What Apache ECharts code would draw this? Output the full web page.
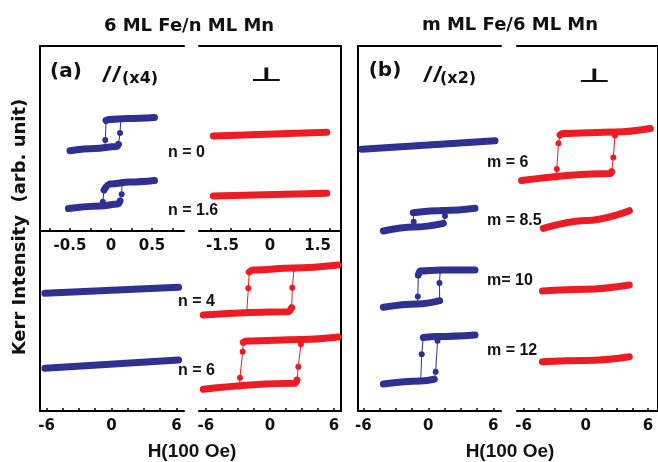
<!DOCTYPE html>
<html>
<head>
<meta charset="utf-8">
<script src="https://cdn.jsdelivr.net/npm/echarts@6.0.0/dist/echarts.min.js"></script>
<style>
html,body{margin:0;padding:0;background:#fff;}
#chart{width:658px;height:462px;}
</style>
</head>
<body>
<div id="chart"></div>
<script>
// ---------- tick labels (field H in units of 100 Oe) ----------
const labelsParA  = [-0.5, 0, 0.5];
const ticksParA   = [-0.75, -0.5, -0.25, 0, 0.25, 0.5, 0.75];
const labelsPerpA = [-1.5, 0, 1.5];
const ticksPerpA  = [-1.875, -1.25, -0.625, 0, 0.625, 1.25, 1.875];
const labelsField = [-6, 0, 6];
const ticksField  = [-6, -4.5, -3, -1.5, 0, 1.5, 3, 4.5, 6];

// ---------- curve labels ----------
const nLabels = ['n = 0', 'n = 1.6', 'n = 4', 'n = 6'];
const mLabels = ['m = 6', 'm = 8.5', 'm= 10', 'm = 12'];

// ---------- (a) 6 ML Fe / n ML Mn : parallel (x4), [H, Kerr] ----------
const aPar0Upper = [[-0.06,110.5],[-0.03,111.5],[0.2,112.5],[0.53,113.5]];
const aPar0Lower = [[-0.5,80.3],[-0.2,82.5],[0.07,84.5],[0.09,86.5]];
const aPar0Down  = [[-0.06,110.5],[-0.07,91],[-0.075,83.5]];
const aPar0Up    = [[0.09,86.5],[0.11,98],[0.12,112]];

const aPar16Upper = [[-0.085,41],[-0.01,47],[0.23,49],[0.53,50.5]];
const aPar16Lower = [[-0.52,22.5],[-0.13,25],[0.085,27],[0.11,30]];
const aPar16Down  = [[-0.085,41],[-0.1,29.3],[-0.1,25]];
const aPar16Up    = [[0.11,30],[0.13,36.7],[0.135,48.5]];

const aPar4 = [[-6.15,117.7],[6.2,123.7]];
const aPar6 = [[-6.15,42.7],[6.2,51]];

// ---------- (a) perpendicular ----------
const aPerp0  = [[-1.79,95],[1.79,98.7]];
const aPerp16 = [[-1.79,35],[1.79,37.7]];

const aPerp4Upper = [[-1.94,139],[-1.6,141],[2.25,143],[6.4,146]];
const aPerp4Lower = [[-6.25,96],[1.72,99.3],[2.03,103.3]];
const aPerp4Down  = [[-1.94,139],[-2.03,122.7],[-2.18,98]];
const aPerp4Up    = [[2.03,103.3],[2.09,123.3],[2.25,142.5]];

const aPerp6Upper = [[-2.5,68.7],[-2.2,70],[3.0,71.5],[6.4,74]];
const aPerp6Lower = [[-6.25,21.7],[2.34,27.7],[2.53,31]];
const aPerp6Down  = [[-2.5,68.7],[-2.56,59.3],[-2.81,33.3],[-2.86,24.5]];
const aPerp6Up    = [[2.53,31],[2.65,44.3],[2.9,66.7],[3.0,71]];

// ---------- (b) m ML Fe / 6 ML Mn : parallel (x2) ----------
const bPar6 = [[-6.15,261.7],[6.16,270.3]];

const bPar85Upper = [[-1.39,198.3],[1.5,200.5],[4.31,202.7]];
const bPar85Lower = [[-4.15,180],[-1.3,184],[1.39,187.7]];
const bPar85Down  = [[-1.39,198.3],[-1.35,189.3],[-1.3,184]];
const bPar85Up    = [[1.39,187.7],[1.54,195],[1.6,200.5]];

const bPar10Upper = [[-0.92,136],[-0.77,140],[1.17,141],[4.31,141]];
const bPar10Lower = [[-4.15,103.7],[-1.0,107],[1.05,110.3]];
const bPar10Down  = [[-0.92,136],[-0.97,114.5],[-1.0,107]];
const bPar10Up    = [[1.05,110.3],[1.03,128],[1.1,140.5]];

const bPar12Upper = [[-0.46,73.5],[0.85,74.5],[4.31,76]];
const bPar12Lower = [[-4.15,27],[-0.7,30],[0.55,31.7]];
const bPar12Down  = [[-0.46,73.5],[-0.61,56.7],[-0.7,30]];
const bPar12Up    = [[0.55,31.7],[0.68,39.3],[0.85,70.3],[0.87,74.5]];

// ---------- (b) perpendicular ----------
const bPerp6Upper = [[-2.48,276],[-2.2,277.5],[2.81,279],[6.22,282.5]];
const bPerp6Lower = [[-6.2,230.5],[2.33,237.5],[2.49,239.3]];
const bPerp6Down  = [[-2.48,276],[-2.64,267.7],[-2.8,242],[-2.87,233.5]];
const bPerp6Up    = [[2.49,239.3],[2.65,253.5],[2.81,275.5],[2.83,279]];

const bPerp85 = [[-4.1,182.7],[0.08,190.5],[4.2,200.3]];
const bPerp10 = [[-4.19,120],[0,121.8],[4.19,126]];
const bPerp12 = [[-4.19,49.3],[0,50.5],[4.19,54.3]];

// ================= layout & styles =================
const BLUE = '#2E3192', RED = '#ED1C24', INK = '#111111';
const FONT = "'Liberation Sans', Arial, Helvetica, sans-serif";
const WIDE = "'DejaVu Sans', Verdana, sans-serif";

const grids = [
  {left:40,  top:46,  width:144, height:185},  // (a) parallel, top
  {left:199, top:46,  width:142, height:185},  // (a) perp, top
  {left:40,  top:231, width:144, height:180},  // (a) parallel, bottom
  {left:199, top:231, width:142, height:180},  // (a) perp, bottom
  {left:358, top:46,  width:143, height:365},  // (b) parallel
  {left:517, top:46,  width:146, height:365}   // (b) perp
];
const xRanges = [[-0.866,0.89],[-2.24,2.24],[-6.6,6.7],[-6.65,6.65],[-6.49,6.71],[-6.64,6.96]];
const tickSets  = [ticksParA, ticksPerpA, ticksField, ticksField, ticksField, ticksField];
const labelSets = [labelsParA, labelsPerpA, labelsField, labelsField, labelsField, labelsField];
const ySide = ['left','right','left','right','left','right'];
const topLine = [0,1,4,5];

const axisLineStyle = {color:'#000', width:2};
const xAxes = [], yAxes = [];
grids.forEach((g,i)=>{
  xAxes.push({
    gridIndex:i, type:'value', position:'bottom', min:xRanges[i][0], max:xRanges[i][1],
    axisLine:{show:true, onZero:false, lineStyle:axisLineStyle},
    axisTick:{show:true, inside:true, length:3, customValues:tickSets[i], lineStyle:{color:'#000', width:1.5}},
    axisLabel:{show:true, customValues:labelSets[i], margin:8, fontSize:15, fontWeight:'bold', fontFamily:WIDE, color:INK},
    splitLine:{show:false}
  });
  yAxes.push({
    gridIndex:i, type:'value', position:ySide[i], min:0, max:g.height,
    axisLine:{show:true, onZero:false, lineStyle:axisLineStyle},
    axisTick:{show:false}, axisLabel:{show:false}, splitLine:{show:false}
  });
});
topLine.forEach(i=>{
  xAxes.push({
    gridIndex:i, type:'value', position:'top', min:xRanges[i][0], max:xRanges[i][1],
    axisLine:{show:true, onZero:false, lineStyle:axisLineStyle},
    axisTick:{show:false}, axisLabel:{show:false}, splitLine:{show:false}
  });
});

const series = [];
function band(data, ax, color){
  series.push({type:'line', xAxisIndex:ax, yAxisIndex:ax, data:data, symbol:'none', showSymbol:false,
    smooth:0.4, smoothMonotone:'x', silent:true, z:3,
    lineStyle:{color:color, width:7, cap:'round', join:'round'}});
}
function jump(data, ax, color){
  series.push({type:'line', xAxisIndex:ax, yAxisIndex:ax, data:data, symbol:'circle', symbolSize:6,
    showSymbol:true, showAllSymbol:true, silent:true, z:2,
    itemStyle:{color:color}, lineStyle:{color:color, width:1}});
}
function loop(ax, color, upper, lower, down, up){
  band(upper, ax, color); band(lower, ax, color); jump(down, ax, color); jump(up, ax, color);
}

loop(0, BLUE, aPar0Upper, aPar0Lower, aPar0Down, aPar0Up);
loop(0, BLUE, aPar16Upper, aPar16Lower, aPar16Down, aPar16Up);
band(aPerp0, 1, RED); band(aPerp16, 1, RED);
band(aPar4, 2, BLUE); band(aPar6, 2, BLUE);
loop(3, RED, aPerp4Upper, aPerp4Lower, aPerp4Down, aPerp4Up);
loop(3, RED, aPerp6Upper, aPerp6Lower, aPerp6Down, aPerp6Up);
band(bPar6, 4, BLUE);
loop(4, BLUE, bPar85Upper, bPar85Lower, bPar85Down, bPar85Up);
loop(4, BLUE, bPar10Upper, bPar10Lower, bPar10Down, bPar10Up);
loop(4, BLUE, bPar12Upper, bPar12Lower, bPar12Down, bPar12Up);
loop(5, RED, bPerp6Upper, bPerp6Lower, bPerp6Down, bPerp6Up);
band(bPerp85, 5, RED); band(bPerp10, 5, RED); band(bPerp12, 5, RED);

function txt(text, x, y, size, extra){
  const e = Object.assign({}, extra||{});
  const align = e.align || 'center'; delete e.align;
  const family = e.family || FONT; delete e.family;
  const style = {text:text, fontSize:size, fontWeight:'bold', fontFamily:family, fill:INK,
    textAlign:align, align:align, textVerticalAlign:'middle', verticalAlign:'middle'};
  if (e.fontStyle){ style.fontStyle = e.fontStyle; delete e.fontStyle; }
  return Object.assign({type:'text', x:x, y:y, z:10, silent:true, style:style}, e);
}

const graphics = [
  txt('6 ML Fe/n ML Mn', 189, 26, 18, {family:WIDE}),
  txt('m ML Fe/6 ML Mn', 510, 25, 18, {family:WIDE}),
  txt('Kerr Intensity  (arb. unit)', 20, 227, 18, {rotation:Math.PI/2, family:WIDE}),
  txt('H(100 Oe)', 192, 452, 19),
  txt('H(100 Oe)', 510, 452, 19),
  txt('(a)', 66, 72, 20, {family:WIDE}),
  txt('//', 102, 75, 19, {align:'left', family:WIDE, scaleX:1.4}),
  txt('(x4)', 122, 79, 16, {align:'left', family:WIDE}),
  txt('\u22A5', 266, 76, 19, {family:WIDE, scaleX:1.9}),
  txt('(b)', 385, 71, 20, {family:WIDE}),
  txt('//', 423, 75, 19, {align:'left', family:WIDE, scaleX:1.4}),
  txt('(x2)', 440, 79, 16, {align:'left', family:WIDE}),
  txt('\u22A5', 594, 77, 19, {family:WIDE, scaleX:1.9}),
  txt(nLabels[0], 168, 153, 16, {align:'left'}),
  txt(nLabels[1], 168, 211, 16, {align:'left'}),
  txt(nLabels[2], 178, 302, 16, {align:'left'}),
  txt(nLabels[3], 178, 371, 16, {align:'left'}),
  txt(mLabels[0], 487, 162.5, 16, {align:'left'}),
  txt(mLabels[1], 487, 221, 16, {align:'left'}),
  txt(mLabels[2], 487, 281, 16, {align:'left'}),
  txt(mLabels[3], 487, 351, 16, {align:'left'})
];

const chart = echarts.init(document.getElementById('chart'), null, {renderer:'canvas'});
chart.setOption({
  animation:false,
  backgroundColor:'#ffffff',
  grid:grids.map(g=>Object.assign({containLabel:false}, g)),
  xAxis:xAxes,
  yAxis:yAxes,
  series:series,
  graphic:{elements:graphics}
});
</script>
</body>
</html>
